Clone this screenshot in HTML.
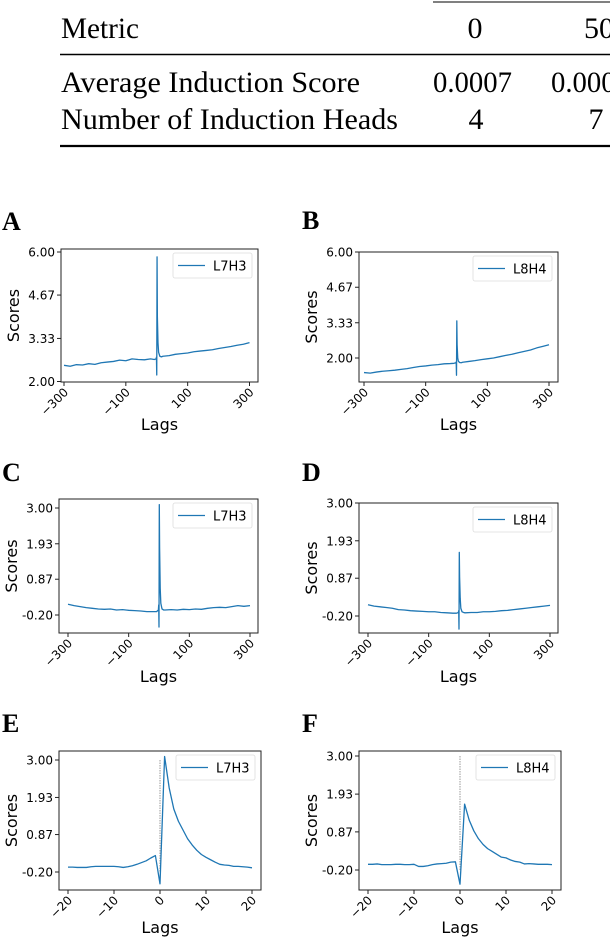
<!DOCTYPE html>
<html><head><meta charset="utf-8">
<style>
html,body{margin:0;padding:0;background:#fff;}
svg{display:block;}
.tbl{font-family:"Liberation Serif",serif;font-size:30px;fill:#000;}
.tk{font-family:"DejaVu Sans",sans-serif;font-size:12px;fill:#000;}
.ax{font-family:"DejaVu Sans",sans-serif;font-size:16px;fill:#000;}
.pl{font-family:"Liberation Serif",serif;font-size:26px;font-weight:bold;fill:#000;}
</style></head>
<body>
<svg id="root" width="610" height="938" viewBox="0 0 610 938" xmlns="http://www.w3.org/2000/svg">
  <g>
    <line x1="433" y1="2" x2="610" y2="2" stroke="#000" stroke-width="1"/>
    <text class="tbl" x="61" y="38" textLength="78" lengthAdjust="spacingAndGlyphs">Metric</text>
    <text class="tbl" x="475" y="38" text-anchor="middle">0</text>
    <text class="tbl" x="584" y="38">50</text>
    <line x1="60" y1="54.5" x2="610" y2="54.5" stroke="#000" stroke-width="1.5"/>
    <text class="tbl" x="61" y="92" textLength="299" lengthAdjust="spacingAndGlyphs">Average Induction Score</text>
    <text class="tbl" x="433" y="92" textLength="79" lengthAdjust="spacingAndGlyphs">0.0007</text>
    <text class="tbl" x="551" y="92" textLength="79" lengthAdjust="spacingAndGlyphs">0.0006</text>
    <text class="tbl" x="61" y="129" textLength="337" lengthAdjust="spacingAndGlyphs">Number of Induction Heads</text>
    <text class="tbl" x="476" y="129" text-anchor="middle">4</text>
    <text class="tbl" x="596" y="129" text-anchor="middle">7</text>
    <line x1="60" y1="146" x2="610" y2="146" stroke="#000" stroke-width="2.2"/>
  </g>
</svg>
<script>
// ---- data ----
const lagsLong = [-300,-280,-260,-240,-220,-200,-180,-160,-140,-120,-100,-80,-60,-40,-20,-8,-2,-1,0,1,2,4,6,10,15,20,40,60,80,100,120,140,160,180,200,220,240,260,280,300];
const lagsShort = [-20,-19,-18,-17,-16,-15,-14,-13,-12,-11,-10,-9,-8,-7,-6,-5,-4,-3,-2,-1,0,1,2,3,4,5,6,7,8,9,10,11,12,13,14,15,16,17,18,19,20];
const seriesA = [2.50,2.47,2.52,2.51,2.55,2.53,2.58,2.60,2.62,2.66,2.64,2.70,2.68,2.67,2.70,2.68,2.70,2.75,2.20,5.85,4.0,3.2,2.9,2.78,2.76,2.78,2.80,2.84,2.86,2.88,2.92,2.94,2.96,2.98,3.02,3.05,3.08,3.12,3.15,3.20];
const seriesB = [1.45,1.43,1.47,1.50,1.52,1.54,1.57,1.60,1.64,1.68,1.70,1.73,1.75,1.78,1.79,1.80,1.82,1.85,1.35,3.40,2.5,2.0,1.88,1.83,1.82,1.84,1.87,1.90,1.94,1.97,2.00,2.05,2.10,2.14,2.20,2.25,2.30,2.38,2.44,2.50];
const seriesC = [0.12,0.08,0.05,0.02,0.00,-0.02,-0.03,-0.02,-0.05,-0.04,-0.06,-0.07,-0.08,-0.10,-0.10,-0.10,-0.05,0.1,-0.56,3.10,1.8,0.6,0.15,-0.02,-0.05,-0.05,-0.04,-0.05,-0.03,-0.04,-0.02,-0.03,0.00,0.02,0.03,0.02,0.05,0.08,0.06,0.08];
const seriesD = [0.12,0.08,0.06,0.04,0.02,-0.02,-0.03,-0.05,-0.06,-0.07,-0.08,-0.08,-0.10,-0.11,-0.12,-0.12,-0.10,-0.05,-0.57,1.60,0.9,0.3,0.02,-0.08,-0.10,-0.11,-0.10,-0.10,-0.08,-0.08,-0.07,-0.05,-0.04,-0.02,0.00,0.02,0.04,0.06,0.08,0.10];
const seriesE = [-0.06,-0.06,-0.07,-0.07,-0.07,-0.05,-0.04,-0.04,-0.04,-0.04,-0.04,-0.05,-0.07,-0.05,-0.02,0.02,0.07,0.12,0.20,0.27,-0.54,3.10,2.20,1.60,1.25,1.00,0.75,0.57,0.42,0.30,0.22,0.15,0.08,0.02,0.00,-0.01,-0.04,-0.04,-0.05,-0.06,-0.08];
const seriesF = [-0.04,-0.04,-0.03,-0.05,-0.05,-0.05,-0.04,-0.04,-0.05,-0.05,-0.04,-0.10,-0.10,-0.08,-0.05,-0.03,-0.02,-0.01,0.02,0.03,-0.60,1.65,1.20,0.90,0.68,0.52,0.40,0.32,0.24,0.16,0.14,0.08,0.04,0.02,-0.03,-0.02,-0.03,-0.04,-0.04,-0.04,-0.05];
const xTicksLong = [-300,-100,100,300];
const xTicksShort = [-20,-10,0,10,20];
const yTicksAB = [6.00,4.67,3.33,2.00];
const yTicksCF = [3.00,1.93,0.87,-0.20];
const yLabelsAB = ["6.00","4.67","3.33","2.00"];
const yLabelsCF = ["3.00","1.93","0.87","-0.20"];

const NS = "http://www.w3.org/2000/svg";
const root = document.getElementById('root');
function mk(tag, attrs, parent){
  const e = document.createElementNS(NS, tag);
  for (const k in attrs) e.setAttribute(k, attrs[k]);
  (parent||root).appendChild(e);
  return e;
}
function panel(p){
  const g = mk('g', {});
  
  
  const sx = v => p.xp[0] + (v - p.xv[0]) * (p.xp[1]-p.xp[0]) / (p.xv[1]-p.xv[0]);
  const sy = v => p.yp[0] + (v - p.yv[0]) * (p.yp[1]-p.yp[0]) / (p.yv[1]-p.yv[0]);
  const f = p.frame;
  const lt = mk('text', {x: p.lp[0], y: p.lp[1], class:'pl'}, g);
  lt.textContent = p.id;
  
  
  if (p.vline) {
    const vl = mk('line', {x1: sx(0), x2: sx(0), y1: sy(3.0), y2: sy(-0.2), stroke:'#aaa', 'stroke-width':1.2, 'stroke-dasharray':'1.5 1'}, g);
    
    
  }
  let d = '';
  p.xs.forEach((x,i)=>{ d += (i? 'L':'M') + sx(x).toFixed(2) + ' ' + sy(p.ys[i]).toFixed(2) + ' '; });
  const ln = mk('path', {d: d, fill:'none', stroke:'#1f77b4', 'stroke-width':1.3, 'stroke-linejoin':'round'}, g);
  
  
  const fr = mk('rect', {x:f[0], y:f[1], width:f[2]-f[0], height:f[3]-f[1], fill:'none', stroke:'#222', 'stroke-width':1}, g);
  
  
  p.yt.forEach((v,i)=>{
    const y = sy(v);
    const t = mk('line', {x1:f[0]-4, x2:f[0], y1:y, y2:y, stroke:'#222'}, g);
    
    
    const tx = mk('text', {x:f[0]-6, y:y+4.5, class:'tk', 'text-anchor':'end'}, g);
    tx.textContent = p.yl[i];
    
    
  });
  p.xt.forEach(v=>{
    const x = sx(v);
    const t = mk('line', {x1:x, x2:x, y1:f[3], y2:f[3]+4, stroke:'#222'}, g);
    
    
    const tx = mk('text', {x:x+5, y:f[3]+11, class:'tk', 'text-anchor':'end', transform:'rotate(-45 '+(x+5)+' '+(f[3]+11)+')'}, g);
    tx.textContent = String(v).replace('-', '\u2212');
    
    
  });
  const cx = (f[0]+f[2])/2;
  const xl = mk('text', {x:cx, y:f[3]+p.lagOff, class:'ax', 'text-anchor':'middle'}, g);
  xl.textContent = 'Lags';
  
  
  const cy = (f[1]+f[3])/2;
  const yx = f[0]-42;
  const yl = mk('text', {x:yx, y:cy, class:'ax', 'text-anchor':'middle', transform:'rotate(-90 '+yx+' '+cy+')'}, g);
  yl.textContent = 'Scores';
  
  
  const lx = f[2]-85, ly = f[1]+4;
  const lg = mk('g', {}, g);
  
  
  mk('rect', {x:lx, y:ly, width:79, height:25, rx:2, fill:'#fff', stroke:'#ddd', 'stroke-width':0.8}, lg);
  mk('line', {x1:lx+5, x2:lx+32, y1:ly+12.5, y2:ly+12.5, stroke:'#1f77b4', 'stroke-width':1.3}, lg);
  const lt2 = mk('text', {x:lx+40, y:ly+17.5, class:'tk', style:'font-size:13px'}, lg);
  lt2.textContent = p.label;
  
  
}
panel({id:'A', label:'L7H3', lp:[2,230], lagOff:48, frame:[61,249,258,382], xv:[-300,300], xp:[64,249.5], yv:[6,2], yp:[252,381.5], xs:lagsLong, ys:seriesA, xt:xTicksLong, yt:yTicksAB, yl:yLabelsAB});
panel({id:'B', label:'L8H4', lp:[302,229], lagOff:48, frame:[359,252,558,382], xv:[-300,300], xp:[364,549], yv:[6,2], yp:[252,358], xs:lagsLong, ys:seriesB, xt:xTicksLong, yt:yTicksAB, yl:yLabelsAB});
panel({id:'C', label:'L7H3', lp:[2,481], lagOff:49, frame:[59,499,258,633], xv:[-300,300], xp:[68,250], yv:[3,-0.2], yp:[508,615], xs:lagsLong, ys:seriesC, xt:xTicksLong, yt:yTicksCF, yl:yLabelsCF});
panel({id:'D', label:'L8H4', lp:[302,481], lagOff:49, frame:[359,503,558,633], xv:[-300,300], xp:[368,550], yv:[3,-0.2], yp:[503,616], xs:lagsLong, ys:seriesD, xt:xTicksLong, yt:yTicksCF, yl:yLabelsCF});
panel({id:'E', label:'L7H3', lp:[2,732], lagOff:43, frame:[59,751,261,890], xv:[-20,20], xp:[68,252], yv:[3,-0.2], yp:[760,872], xs:lagsShort, ys:seriesE, xt:xTicksShort, yt:yTicksCF, yl:yLabelsCF, vline:true});
panel({id:'F', label:'L8H4', lp:[302,732], lagOff:43, frame:[359,751,561,890], xv:[-20,20], xp:[368,552], yv:[3,-0.2], yp:[756,870], xs:lagsShort, ys:seriesF, xt:xTicksShort, yt:yTicksCF, yl:yLabelsCF, vline:true});
</script>
</body></html>
